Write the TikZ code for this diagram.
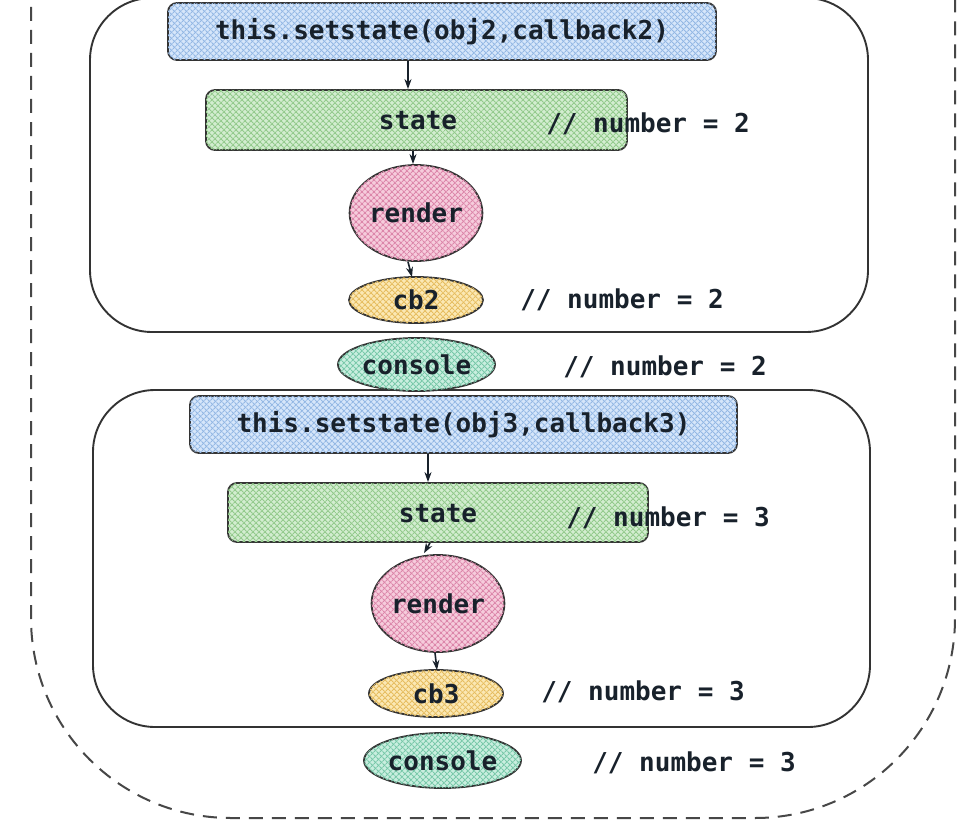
\documentclass[tikz,border=0pt]{standalone}
\usepackage{fontspec}
\setmonofont{DejaVu Sans Mono}
\usetikzlibrary{shapes.geometric,arrows.meta,patterns.meta}
\definecolor{txt}{HTML}{18212B}
\definecolor{edge}{HTML}{333333}
\definecolor{blueF}{HTML}{D6E6FA}
\definecolor{blueP}{HTML}{94B8E4}
\definecolor{greenF}{HTML}{D3EDD0}
\definecolor{greenP}{HTML}{93CA8C}
\definecolor{pinkF}{HTML}{F6CCDC}
\definecolor{pinkP}{HTML}{DC86AA}
\definecolor{yellowF}{HTML}{FBE8B4}
\definecolor{yellowP}{HTML}{E6BD60}
\definecolor{tealF}{HTML}{C9EEDF}
\definecolor{tealP}{HTML}{78C8A9}
\tikzset{
  hatch/.style={
    postaction={pattern={Lines[angle=45,distance=4pt,line width=1.2pt]},pattern color=#1},
    postaction={pattern={Lines[angle=-45,distance=4pt,line width=1.2pt]},pattern color=#1}},
  lbl/.style={font=\ttfamily\bfseries\fontsize{26}{30}\selectfont, text=txt, inner sep=0pt},
  codebox/.style={draw=edge, line width=1.8pt, rounded corners=9pt, inner sep=0pt,
    font=\ttfamily\bfseries\fontsize{26}{30}\selectfont, text=txt},
  oval/.style={ellipse, draw=edge, line width=1.8pt, inner sep=0pt,
    font=\ttfamily\bfseries\fontsize{26}{30}\selectfont, text=txt},
  group/.style={draw=edge, line width=1.9pt, rounded corners=62pt},
  outer/.style={draw=edge!90, line width=2pt, dash pattern=on 14pt off 9pt, rounded corners=200pt},
  arr/.style={-{Stealth[length=10pt,width=7pt]}, line width=1.6pt, draw=txt},
}
\begin{document}
\begin{tikzpicture}[x=1pt,y=-1pt]
\clip (0,0) rectangle (960,824);
\fill[white] (0,0) rectangle (960,824);
% outer dashed frame
\draw[outer] (31,-400) rectangle (955,818);
% groups
\draw[group] (90,-2) rectangle (868,332);
\draw[group] (93,390) rectangle (870,727);
% first group
\node[codebox, fill=blueF, hatch=blueP, minimum width=548pt, minimum height=57pt] (set1) at (442,31.5) {this.setstate(obj2,callback2)};
\node[codebox, fill=greenF, hatch=greenP, minimum width=421pt, minimum height=60pt] (state1) at (416.5,120) {};
\node[lbl] (statet1) at (418,121) {state};
\node[oval, fill=pinkF, hatch=pinkP, minimum width=130pt, minimum height=96pt] (render1) at (416,213) {render};
\node[oval, fill=yellowF, hatch=yellowP, minimum width=134pt, minimum height=46pt] (cb2) at (416,300) {cb2};
\node[oval, fill=tealF, hatch=tealP, minimum width=157pt, minimum height=53pt] (con1) at (416.5,364.5) {console};
\node[lbl] (n1) at (648,124) {// number = 2};
\node[lbl] (n2) at (622,300) {// number = 2};
\node[lbl] (n3) at (665,367) {// number = 2};
\draw[arr] ([xshift=-34pt]set1.south) -- ([xshift=-8.5pt]state1.north);
\draw[arr] ([xshift=-3.5pt]state1.south) -- ([xshift=-3pt]render1.north);
\draw[arr] ([xshift=-8pt]render1.south) -- ([xshift=-4pt,yshift=-1pt]cb2.north);
% second group
\node[codebox, fill=blueF, hatch=blueP, minimum width=547pt, minimum height=57pt] (set2) at (463.5,424.5) {this.setstate(obj3,callback3)};
\node[codebox, fill=greenF, hatch=greenP, minimum width=420pt, minimum height=59pt] (state2) at (438,512.5) {};
\node[lbl] (statet2) at (438,514) {state};
\node[oval, fill=pinkF, hatch=pinkP, minimum width=130pt, minimum height=97pt] (render2) at (438,603.5) {render};
\node[oval, fill=yellowF, hatch=yellowP, minimum width=134pt, minimum height=47pt] (cb3) at (436,693.5) {cb3};
\node[oval, fill=tealF, hatch=tealP, minimum width=157pt, minimum height=55pt] (con2) at (442.5,760.5) {console};
\node[lbl] (n4) at (668,518) {// number = 3};
\node[lbl] (n5) at (643,692) {// number = 3};
\node[lbl] (n6) at (694,763) {// number = 3};
\draw[arr] ([xshift=-35.5pt]set2.south) -- ([xshift=-10pt]state2.north);
\draw[arr] ([xshift=-8pt]state2.south) -- ([xshift=-14pt,yshift=1pt]render2.north);
\draw[arr] ([xshift=-3pt]render2.south) -- ([xshift=1pt,yshift=-1pt]cb3.north);
\end{tikzpicture}
\end{document}
